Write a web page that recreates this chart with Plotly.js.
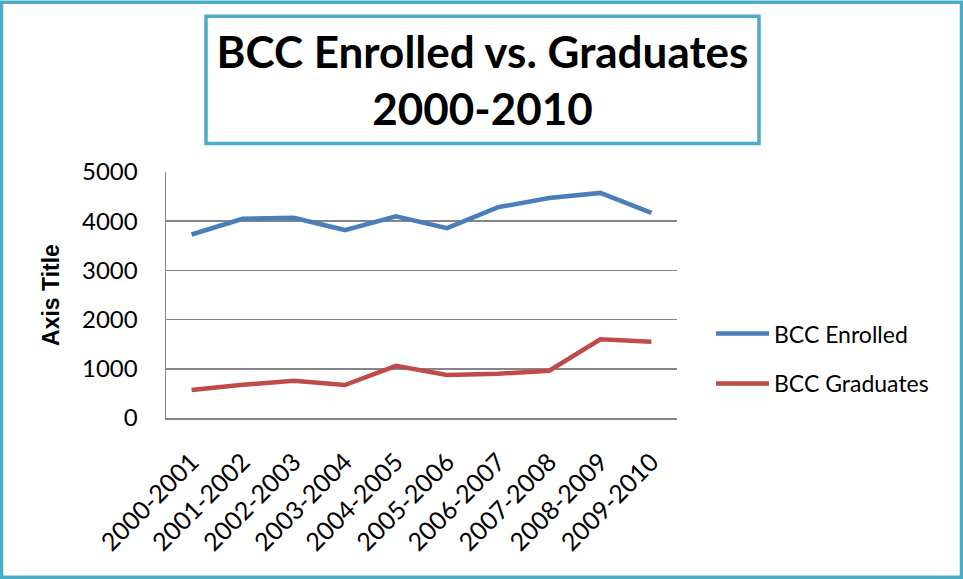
<!DOCTYPE html>
<html>
<head>
<meta charset="utf-8">
<script src="https://cdn.plot.ly/plotly-3.0.1.min.js"></script>
<style>
  html, body { margin: 0; padding: 0; background: #ffffff; }
  #chart { width: 963px; height: 579px; }
</style>
</head>
<body>
<div id="chart"></div>
<script>
// ---- data ----
const categories = ["2000-2001", "2001-2002", "2002-2003", "2003-2004", "2004-2005",
                    "2005-2006", "2006-2007", "2007-2008", "2008-2009", "2009-2010"];
const enrolled  = [3730, 4050, 4070, 3820, 4100, 3860, 4285, 4470, 4575, 4170];
const graduates = [570, 675, 755, 670, 1060, 875, 900, 960, 1600, 1550];
const seriesNames = ["BCC Enrolled", "BCC Graduates"];
const yTicks = [0, 1000, 2000, 3000, 4000, 5000];

// ---- layout geometry (pixels) ----
const W = 963, H = 579;
const L = 166, R = 677, T = 171.5, B = 418;
const px = x => (x - L) / (R - L);
const py = y => (B - y) / (B - T);

const teal = "#4BACC6";
const grid = "#868686";

const traces = [
  {
    x: categories, y: enrolled, name: seriesNames[0], type: "scatter", mode: "lines",
    line: { color: "#4A7EBB", width: 4.5 }, legendgroup: "a"
  },
  {
    x: categories, y: graduates, name: seriesNames[1], type: "scatter", mode: "lines",
    line: { color: "#BE4B48", width: 4.5 }, legendgroup: "b"
  }
];

const layout = {
  width: W, height: H,
  margin: { l: L, r: W - R, t: T, b: H - B, pad: 0 },
  paper_bgcolor: "#ffffff",
  plot_bgcolor: "#ffffff",
  showlegend: true,
  title: {
    text: "BCC Enrolled vs. Graduates<br>2000-2010",
    font: { family: "Lato", size: 44, color: "#000000", weight: "bold" },
    x: 482.5 / W, xanchor: "center",
    y: 1 - 68 / H, yanchor: "middle",
    xref: "container", yref: "container"
  },
  xaxis: {
    type: "category",
    range: [-0.5, categories.length - 0.5],
    tickangle: -45,
    tickfont: { family: "Lato", size: 25, color: "#000000" },
    showgrid: false,
    showline: true, linecolor: grid, linewidth: 1.5,
    ticks: "", ticklabelstandoff: 18,
    zeroline: false,
    fixedrange: true
  },
  yaxis: {
    range: [0, 5000],
    tickvals: yTicks,
    ticktext: yTicks.map(String),
    tickfont: { family: "Lato", size: 24, color: "#000000" },
    showgrid: true, gridcolor: grid, gridwidth: 1.5,
    showline: true, linecolor: grid, linewidth: 1.5,
    zeroline: false,
    ticks: "", ticklabelstandoff: 22,
    title: {
      text: "Axis Title",
      font: { family: "Liberation Sans", size: 23, color: "#000000", weight: "bold" },
      standoff: 16
    },
    fixedrange: true
  },
  legend: {
    x: px(711), xanchor: "left",
    y: py(358.5), yanchor: "middle",
    font: { family: "Lato", size: 23, color: "#000000" },
    traceorder: "grouped",
    tracegroupgap: 17,
    itemwidth: 53,
    bgcolor: "rgba(0,0,0,0)"
  },
  shapes: [
    // outer chart border
    {
      type: "rect", xref: "paper", yref: "paper", layer: "above",
      x0: px(1.5), x1: px(W - 1.5), y0: py(H - 1.5), y1: py(1.5),
      line: { color: teal, width: 3.5 }, fillcolor: "rgba(0,0,0,0)"
    },
    // title box
    {
      type: "rect", xref: "paper", yref: "paper", layer: "below",
      x0: px(206), x1: px(759), y0: py(143), y1: py(15.5),
      line: { color: teal, width: 3.5 }, fillcolor: "rgba(0,0,0,0)"
    }
  ]
};

Plotly.newPlot("chart", traces, layout, { displayModeBar: false, staticPlot: true });
</script>
</body>
</html>
